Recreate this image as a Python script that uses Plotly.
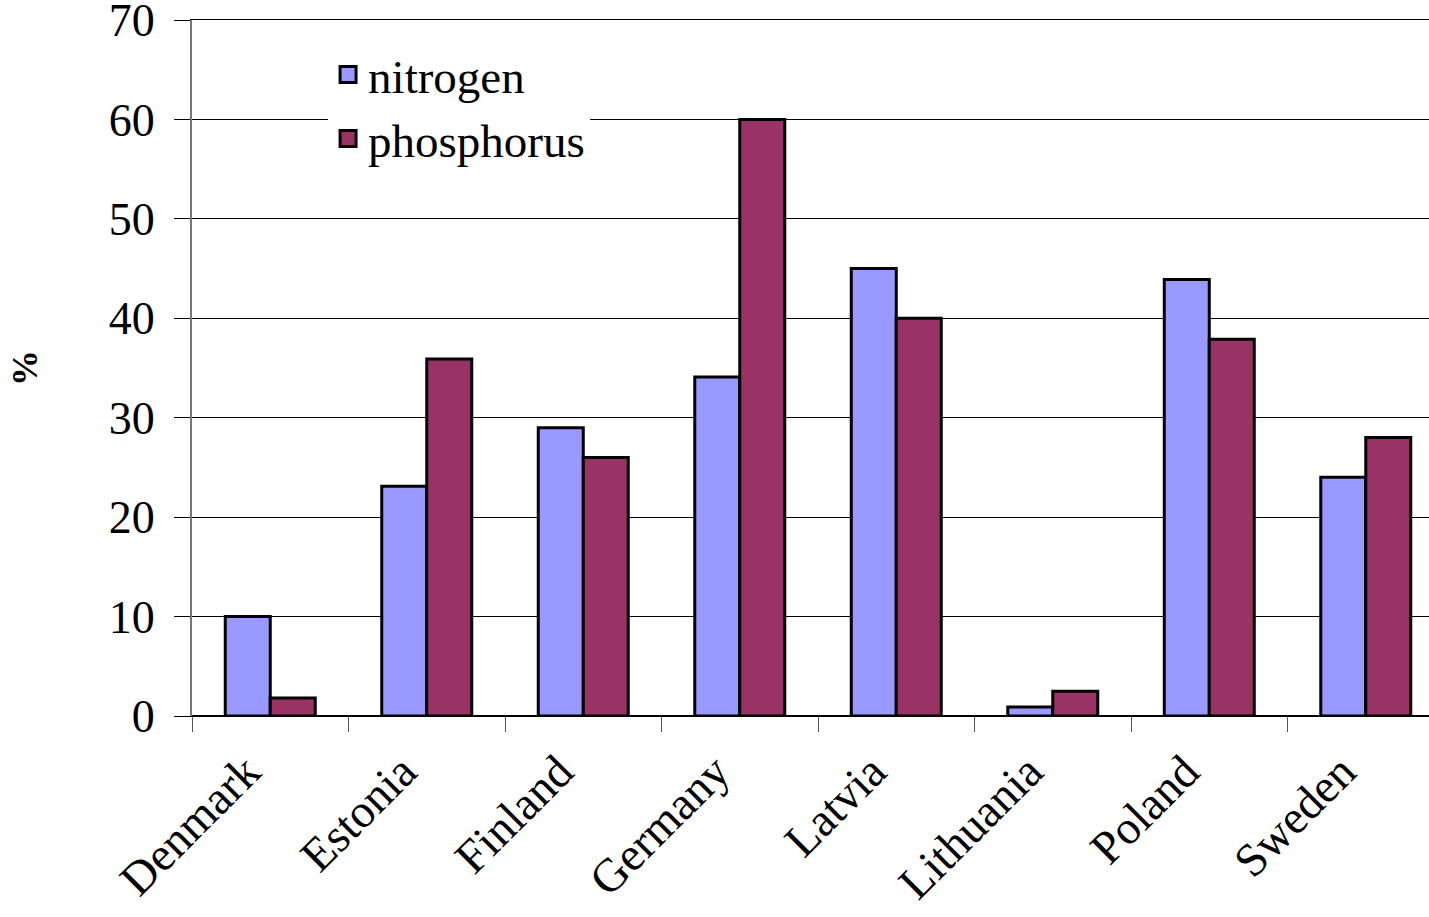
import plotly.graph_objects as go

countries = ["Denmark", "Estonia", "Finland", "Germany", "Latvia", "Lithuania", "Poland", "Sweden"]
nitrogen = [10, 23.1, 29, 34.1, 45, 0.9, 43.9, 24]
phosphorus = [1.8, 35.9, 26, 60, 40, 2.5, 37.9, 28]
y_ticks = [0, 10, 20, 30, 40, 50, 60, 70]

N_COLOR = "#9999FF"
P_COLOR = "#993366"
FONT = "Liberation Serif, Times New Roman, serif"

fig = go.Figure()
fig.add_trace(go.Bar(x=countries, y=nitrogen, name="nitrogen", marker=dict(color=N_COLOR, line=dict(color="black", width=3)), showlegend=False))
fig.add_trace(go.Bar(x=countries, y=phosphorus, name="phosphorus", marker=dict(color=P_COLOR, line=dict(color="black", width=3)), showlegend=False))
# legend proxies
for name, col in [("nitrogen", N_COLOR), ("phosphorus", P_COLOR)]:
    fig.add_trace(go.Scatter(x=[None], y=[None], mode="markers", name=name,
                             marker=dict(symbol="square", size=26, color=col, line=dict(color="black", width=3))))

fig.update_layout(
    width=1429, height=917,
    margin=dict(l=192, r=0, t=20, b=201),
    plot_bgcolor="white", paper_bgcolor="white",
    barmode="group", bargap=0.425, bargroupgap=0,
    font=dict(family=FONT, size=44, color="black"),
    legend=dict(x=0.11, y=0.975, xanchor="left", yanchor="top", bgcolor="white",
                font=dict(size=47, family=FONT), itemsizing="trace", tracegroupgap=0),
    xaxis=dict(range=[-0.5, 7.404], tickangle=-45, ticks="outside", tickson="boundaries",
               ticklen=15, tickcolor="#555555", showline=True, linecolor="black", linewidth=1,
               mirror=True, ticklabelstandoff=8, ticklabelshift=-24, automargin=False,
               tickfont=dict(size=47, family=FONT)),
    yaxis=dict(range=[0, 70], tickvals=y_ticks, ticks="outside", ticklen=16, tickcolor="black",
               showgrid=True, gridcolor="black", gridwidth=1, zeroline=True, zerolinecolor="black",
               showline=True, linecolor="#777777", linewidth=2, ticklabelstandoff=10,
               ticklabeloverflow="allow", automargin=False,
               title=dict(text="<b>%</b>", font=dict(size=36, family=FONT), standoff=60),
               tickfont=dict(size=46, family=FONT)),
)
fig.write_html("out.html", config={"displayModeBar": False},
               post_script="document.body.style.margin='0';")
